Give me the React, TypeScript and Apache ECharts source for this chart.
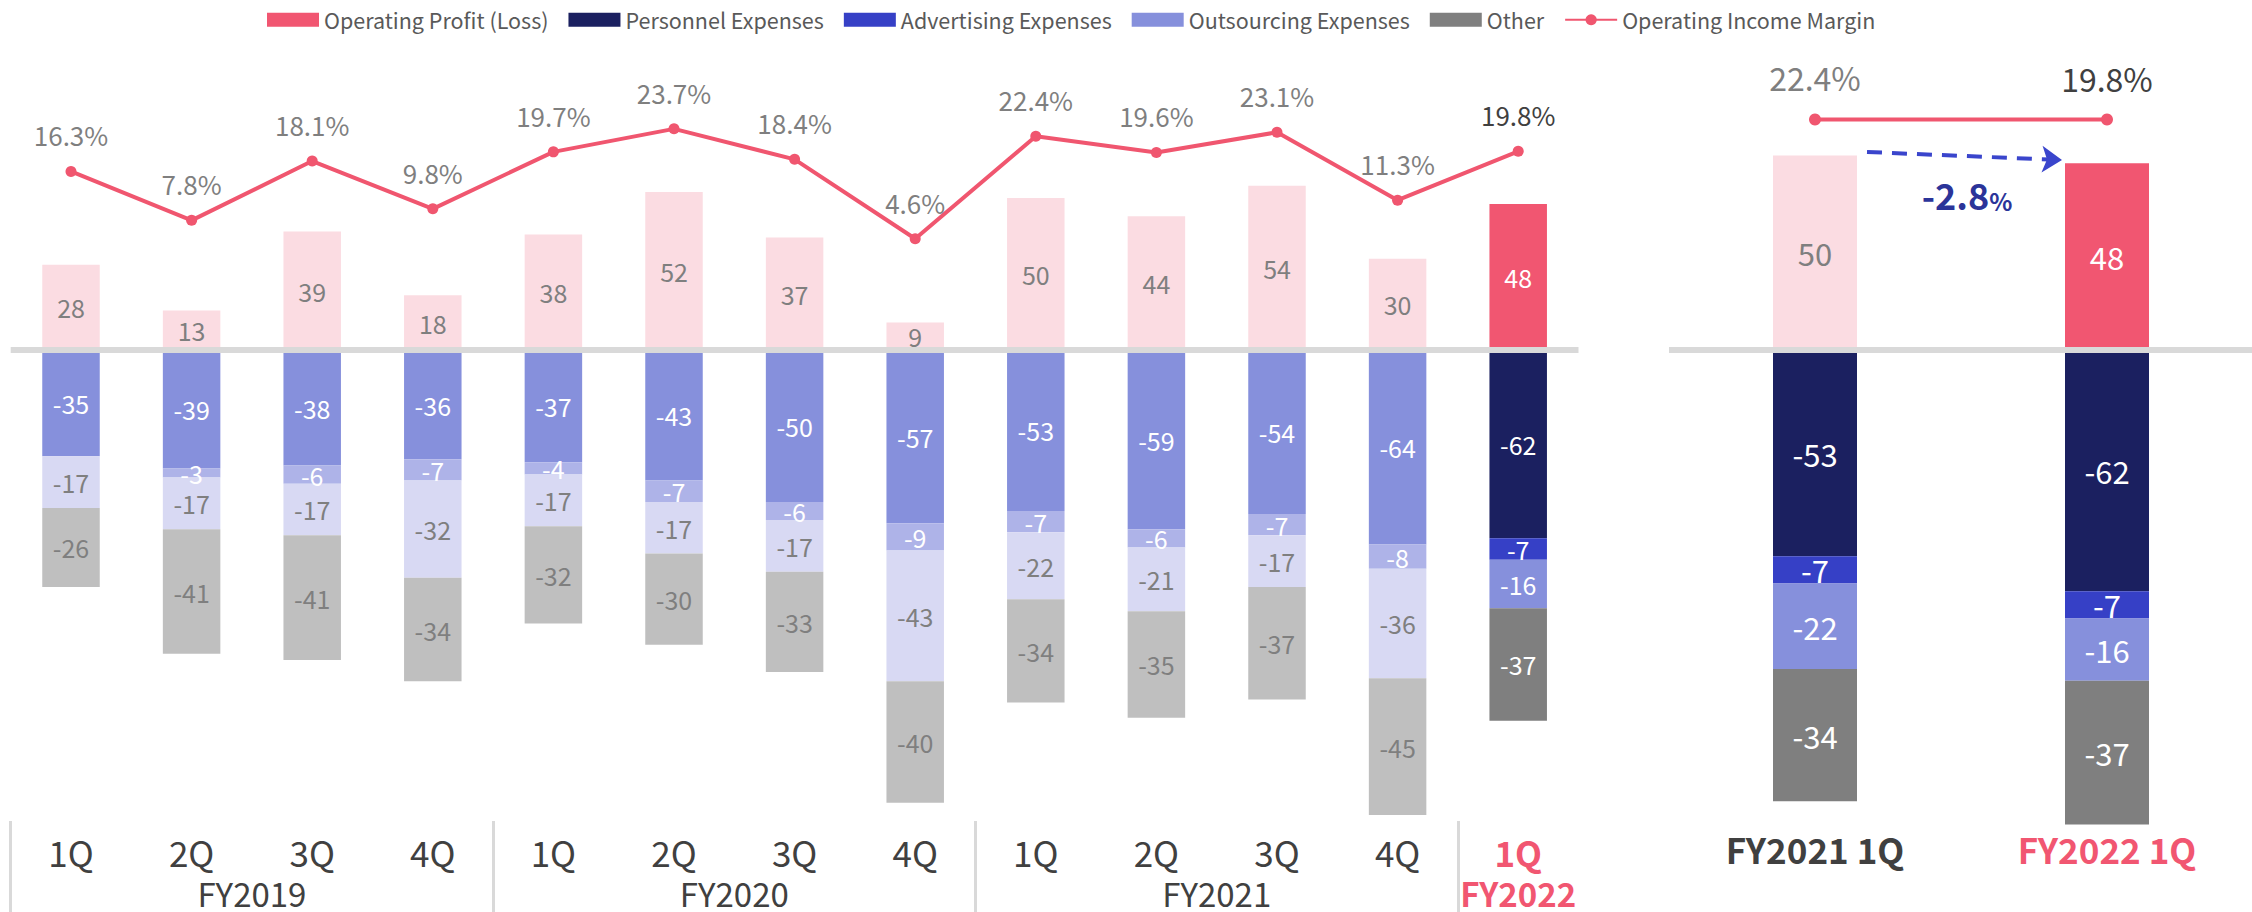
import React, { useEffect, useRef } from 'react';
import * as echarts from 'echarts';

// ---------- data ----------
const quarters = ['1Q', '2Q', '3Q', '4Q', '1Q', '2Q', '3Q', '4Q', '1Q', '2Q', '3Q', '4Q', '1Q'];
const fiscalYears = ['FY2019', 'FY2020', 'FY2021', 'FY2022'];
const quartersPerYear = [4, 4, 4, 1];
const operatingProfit = [28, 13, 39, 18, 38, 52, 37, 9, 50, 44, 54, 30, 48];
const personnel = [-35, -39, -38, -36, -37, -43, -50, -57, -53, -59, -54, -64, -62];
const advertising = [null, -3, -6, -7, -4, -7, -6, -9, -7, -6, -7, -8, -7];
const outsourcing = [-17, -17, -17, -32, -17, -17, -17, -43, -22, -21, -17, -36, -16];
const other = [-26, -41, -41, -34, -32, -30, -33, -40, -34, -35, -37, -45, -37];
const margin = [16.3, 7.8, 18.1, 9.8, 19.7, 23.7, 18.4, 4.6, 22.4, 19.6, 23.1, 11.3, 19.8];
const compareCategories = ['FY2021 1Q', 'FY2022 1Q'];
const compareIndex = [8, 12];
const marginChangeLabel = '-2.8';

// ---------- styles ----------
const FONT = '"Noto Sans CJK JP", "Noto Sans", sans-serif';
const RED = '#f15671';
const GRAY_TXT = '#7f7f7f';
const DARK_TXT = '#404040';
const C = {
  profit: '#f15671', profitFaded: '#fbdce2',
  personnel: '#1b2060', personnelFaded: '#8690dc',
  ad: '#3640c6', adFaded: '#aeb3e8',
  out: '#8690dc', outFaded: '#d8d9f3',
  other: '#7f7f7f', otherFaded: '#bfbfbf',
  line: '#f0566f',
};

const last = quarters.length - 1;
const fyStarts: number[] = [];
const fyCenters: number[] = [];
{
  let s = 0;
  quartersPerYear.forEach((n) => {
    fyStarts.push(s);
    fyCenters.push(s + n / 2);
    s += n;
  });
}

const NAMES = {
  profit: 'Operating Profit (Loss)',
  personnel: 'Personnel Expenses',
  ad: 'Advertising Expenses',
  out: 'Outsourcing Expenses',
  other: 'Other',
  margin: 'Operating Income Margin',
};

const zeroLine = {
  silent: true,
  symbol: ['none', 'none'],
  label: { show: false },
  lineStyle: { color: '#d9d9d9', width: 6, type: 'solid' },
  data: [{ yAxis: 0 }],
};

function leftBar(name: string, values: (number | null)[], full: string, faded: string, fullLabel: string, fadedLabel: string, extra: any = {}) {
  return {
    name,
    type: 'bar',
    stack: 'left',
    xAxisIndex: 0,
    yAxisIndex: 0,
    barWidth: 57.5,
    itemStyle: { color: full },
    label: { show: true, position: 'inside', fontSize: 25, color: fullLabel, fontFamily: FONT },
    data: values.map((v, i) =>
      i === last ? { value: v } : { value: v, itemStyle: { color: faded }, label: { color: fadedLabel } }
    ),
    ...extra,
  };
}

function rightBar(name: string, values: (number | null)[], full: string, extra: any = {}, firstFaded?: { color: string; label: string }) {
  return {
    name,
    type: 'bar',
    stack: 'right',
    xAxisIndex: 2,
    yAxisIndex: 2,
    barWidth: 84,
    itemStyle: { color: full },
    label: { show: true, position: 'inside', fontSize: 31, color: '#ffffff', fontFamily: FONT },
    data: compareIndex.map((qi, k) =>
      k === 0 && firstFaded
        ? { value: values[qi], itemStyle: { color: firstFaded.color }, label: { color: firstFaded.label } }
        : { value: values[qi] }
    ),
    ...extra,
  };
}

const option: any = {
  animation: false,
  textStyle: { fontFamily: FONT },
  legend: {
    left: 262,
    top: 4,
    itemWidth: 52,
    itemHeight: 14,
    itemGap: 20,
    textStyle: { fontSize: 21.5, color: '#595959', fontFamily: FONT },
    data: [
      { name: NAMES.profit, icon: 'rect' },
      { name: NAMES.personnel, icon: 'rect' },
      { name: NAMES.ad, icon: 'rect' },
      { name: NAMES.out, icon: 'rect' },
      { name: NAMES.other, icon: 'rect' },
      { name: NAMES.margin },
    ],
  },
  grid: [
    { left: 10.7, width: 1567.8, top: 46, height: 775, containLabel: false, outerBoundsMode: 'none' },
    { left: 1669, width: 584, top: 116.6, height: 708, containLabel: false, outerBoundsMode: 'none' },
    { left: 1669, width: 584, top: 119, height: 1, containLabel: false, outerBoundsMode: 'none' },
  ],
  xAxis: [
    {
      type: 'category',
      gridIndex: 0,
      data: quarters,
      axisLine: { show: false, onZero: false },
      axisTick: { show: false },
      axisLabel: {
        interval: 0,
        margin: 10,
        fontSize: 35,
        lineHeight: 40,
        color: DARK_TXT,
        fontFamily: FONT,
        formatter: (v: string, i: number) => (i === last ? `{hl|${v}}` : v),
        rich: { hl: { color: RED, fontWeight: 'bold', fontSize: 35, lineHeight: 40, fontFamily: FONT } },
      },
    },
    {
      type: 'value',
      gridIndex: 0,
      position: 'bottom',
      min: 0,
      max: quarters.length,
      axisLine: { show: false, onZero: false },
      splitLine: { show: false },
      axisTick: {
        show: true,
        customValues: fyStarts,
        length: 91,
        lineStyle: { color: '#d9d9d9', width: 3 },
      },
      axisLabel: {
        customValues: fyCenters,
        margin: 57,
        fontSize: 33,
        lineHeight: 30,
        color: DARK_TXT,
        fontFamily: FONT,
        formatter: (v: number) => {
          const k = fyCenters.indexOf(v);
          if (k < 0) return '';
          return k === fiscalYears.length - 1 ? `{hl|${fiscalYears[k]}}` : fiscalYears[k];
        },
        rich: { hl: { color: RED, fontWeight: 'bold', fontSize: 33, lineHeight: 30, fontFamily: FONT } },
      },
    },
    {
      type: 'category',
      gridIndex: 1,
      data: compareCategories,
      axisLine: { show: false, onZero: false },
      axisTick: { show: false },
      axisLabel: {
        interval: 0,
        margin: 4,
        fontSize: 35,
        lineHeight: 40,
        fontWeight: 'bold',
        color: '#404040',
        fontFamily: FONT,
        formatter: (v: string, i: number) => (i === compareCategories.length - 1 ? `{hl|${v}}` : v),
        rich: { hl: { color: RED, fontWeight: 'bold', fontSize: 35, lineHeight: 40, fontFamily: FONT } },
      },
    },
    {
      type: 'category',
      gridIndex: 2,
      data: compareCategories,
      show: false,
      axisLine: { show: false, onZero: false },
    },
  ],
  yAxis: [
    { type: 'value', gridIndex: 0, min: -155, max: 100, show: false },
    { type: 'value', gridIndex: 0, min: -96.6, max: 38.1, show: false },
    { type: 'value', gridIndex: 1, min: -122, max: 60, show: false },
    { type: 'value', gridIndex: 2, min: 0, max: 40, show: false },
  ],
  series: [
    leftBar(NAMES.profit, operatingProfit, C.profit, C.profitFaded, '#ffffff', GRAY_TXT, { markLine: zeroLine }),
    leftBar(NAMES.personnel, personnel, C.personnel, C.personnelFaded, '#ffffff', '#ffffff'),
    leftBar(NAMES.ad, advertising, C.ad, C.adFaded, '#ffffff', '#ffffff'),
    leftBar(NAMES.out, outsourcing, C.out, C.outFaded, '#ffffff', GRAY_TXT),
    leftBar(NAMES.other, other, C.other, C.otherFaded, '#ffffff', GRAY_TXT),
    {
      name: NAMES.margin,
      type: 'line',
      xAxisIndex: 0,
      yAxisIndex: 1,
      symbol: 'circle',
      symbolSize: 11,
      itemStyle: { color: C.line },
      lineStyle: { color: C.line, width: 4 },
      label: {
        show: true,
        position: 'top',
        distance: 18,
        fontSize: 26,
        color: GRAY_TXT,
        fontFamily: FONT,
        formatter: (p: any) => `${Number(p.value).toFixed(1)}%`,
      },
      data: margin.map((v, i) => (i === last ? { value: v, label: { color: DARK_TXT } } : { value: v })),
      z: 5,
    },
    rightBar(NAMES.profit, operatingProfit, C.profit, { markLine: zeroLine }, { color: C.profitFaded, label: GRAY_TXT }),
    rightBar(NAMES.personnel, personnel, C.personnel),
    rightBar(NAMES.ad, advertising, C.ad),
    rightBar(NAMES.out, outsourcing, C.out),
    rightBar(NAMES.other, other, C.other, {
      markLine: {
        silent: true,
        symbol: ['none', 'arrow'],
        symbolSize: 20,
        label: { show: false },
        lineStyle: { color: '#3a45cc', width: 4, type: [15, 10] },
        data: [[{ x: 1867, y: 152 }, { x: 2062, y: 160 }]],
      },
    }),
    {
      name: NAMES.margin,
      type: 'line',
      xAxisIndex: 3,
      yAxisIndex: 3,
      symbol: 'circle',
      symbolSize: 12,
      itemStyle: { color: C.line },
      lineStyle: { color: C.line, width: 4 },
      label: {
        show: true,
        position: 'top',
        distance: 20,
        fontSize: 32,
        color: GRAY_TXT,
        fontFamily: FONT,
        formatter: (p: any) => `${Number(p.value).toFixed(1)}%`,
      },
      data: compareIndex.map((qi, k) => (k === 0 ? { value: margin[qi] } : { value: margin[qi], label: { color: DARK_TXT } })),
      z: 5,
    },
  ],
  graphic: [
    {
      type: 'text',
      x: 1967,
      y: 194,
      style: {
        text: `{a|${marginChangeLabel}}{b|%}`,
        align: 'center',
        verticalAlign: 'middle',
        rich: {
          a: { fontSize: 36, fontWeight: 'bold', fill: '#2b3499', fontFamily: FONT, verticalAlign: 'bottom' },
          b: { fontSize: 24, fontWeight: 'bold', fill: '#2b3499', fontFamily: FONT, verticalAlign: 'bottom' },
        },
      },
    },
  ],
};

export default function App() {
  const ref = useRef<HTMLDivElement>(null);
  useEffect(() => {
    if (!ref.current) return;
    const chart = echarts.init(ref.current, null, { renderer: 'svg' });
    chart.setOption(option);
    return () => chart.dispose();
  }, []);
  return <div ref={ref} style={{ position: 'fixed', left: 0, top: 0, width: 2252, height: 912, background: '#fff' }} />;
}
